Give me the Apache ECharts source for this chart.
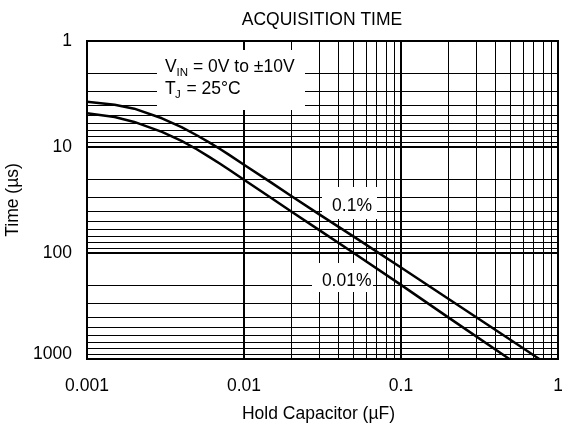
<!DOCTYPE html>
<html><head><meta charset="utf-8">
<script src="https://cdn.jsdelivr.net/npm/echarts@6/dist/echarts.min.js"></script>
<style>html,body{margin:0;padding:0;background:#fff}#c{width:562px;height:427px}</style>
</head><body><div id="c"></div>
<script>
const FONT = '"Liberation Sans", Arial, Helvetica, sans-serif';
const FS = 17.5;
const titleText = 'ACQUISITION TIME';
const xAxisName = 'Hold Capacitor (µF)';
const yAxisName = 'Time (µs)';
const xTicks = [0.001, 0.01, 0.1, 1];
const xTickLabels = ['0.001', '0.01', '0.1', '1'];
const yTicks = [1, 10, 100, 1000];
const yTickLabels = ['1', '10', '100', '1000'];
const gridMultipliers = [2, 3, 4, 5, 6, 7, 8, 9];

const seriesNames = ['0.1%', '0.01%'];
const capacitance01 = [0.001, 0.0015, 0.002, 0.003, 0.004, 0.005, 0.006, 0.007, 0.008, 0.01, 0.015, 0.02, 0.03, 0.05, 0.1, 0.2, 0.5, 0.76];
const time01 =        [3.74, 4.0, 4.35, 5.36, 6.5, 7.75, 9.05, 10.4, 11.8, 14.7, 21.8, 29, 43, 70, 137, 270, 662, 1000];
const capacitance001 = [0.001, 0.0015, 0.002, 0.003, 0.004, 0.005, 0.006, 0.007, 0.008, 0.01, 0.015, 0.02, 0.03, 0.05, 0.1, 0.2, 0.49];
const time001 =        [4.81, 5.22, 5.8, 7.2, 8.75, 10.5, 12.4, 14.3, 16.3, 20.4, 30.5, 40.6, 60.5, 100, 200, 405, 1000];

function minorValues(ticks) {
  const out = [];
  for (let i = 0; i < ticks.length - 1; i++) {
    gridMultipliers.forEach(m => out.push(+(ticks[i] * m).toPrecision(6)));
  }
  return out;
}
function tickLabel(ticks, labels) {
  return function (v) {
    for (let i = 0; i < ticks.length; i++) {
      if (Math.abs(Math.log10(v) - Math.log10(ticks[i])) < 1e-6) return labels[i];
    }
    return '';
  };
}
const xLabelFn = tickLabel(xTicks, xTickLabels);
const yLabelFn = tickLabel(yTicks, yTickLabels);

const chart = echarts.init(document.getElementById('c'), null, {renderer: 'canvas'});

const txt = (x, y, text, size, align) => ({
  type: 'text', x: x, y: y, z: 4, silent: true,
  style: {text: text, fill: '#000', font: size + 'px ' + FONT,
    align: align || 'left', textAlign: align || 'left',
    verticalAlign: 'middle', textVerticalAlign: 'middle'}
});
const box = (x, y, w, h) => ({type: 'rect', z: 3, silent: true, shape: {x: x, y: y, width: w, height: h}, style: {fill: '#fff'}});

chart.setOption({
  animation: false,
  backgroundColor: '#fff',
  title: {
    text: titleText, left: 322, top: 11, textAlign: 'center', padding: 0,
    textStyle: {fontFamily: FONT, fontSize: FS, fontWeight: 'normal', color: '#000'}
  },
  grid: {left: 87, right: 4, top: 41, bottom: 68, show: true, borderColor: '#000', borderWidth: 2,
    backgroundColor: 'transparent', containLabel: false, outerBoundsMode: 'none'},
  xAxis: {
    type: 'log', logBase: 10, min: 0.001, max: 1,
    name: xAxisName, nameLocation: 'middle', nameGap: 46,
    nameTextStyle: {fontFamily: FONT, fontSize: FS, color: '#000', padding: [0, 8, 0, 0]},
    axisLine: {show: false}, axisTick: {show: false},
    axisLabel: {fontFamily: FONT, fontSize: FS, color: '#000', margin: 18, formatter: xLabelFn, showMinLabel: true, showMaxLabel: true},
    splitLine: {show: true, lineStyle: {color: '#000', width: 2}}
  },
  yAxis: {
    type: 'log', logBase: 10, min: 1, max: 1000, inverse: true,
    name: yAxisName, nameLocation: 'middle', nameGap: 59,
    nameTextStyle: {fontFamily: FONT, fontSize: FS, color: '#000'},
    axisLine: {show: false}, axisTick: {show: false},
    axisLabel: {
      fontFamily: FONT, fontSize: FS, color: '#000', margin: 15, showMinLabel: true, showMaxLabel: true,
      formatter: function (v) {
        const s = yLabelFn(v);
        return s === yTickLabels[yTickLabels.length - 1] ? '{up|' + s + '}' : s;
      },
      rich: {up: {fontFamily: FONT, fontSize: FS, color: '#000', padding: [0, 0, 10, 0]}}
    },
    splitLine: {show: true, lineStyle: {color: '#000', width: 2}}
  },
  series: [
    {
      type: 'line', name: 'grid', data: [], z: 1, silent: true,
      markLine: {
        z: 1, silent: true, symbol: ['none', 'none'], animation: false,
        label: {show: false},
        lineStyle: {color: '#000', width: 1, type: 'solid'},
        emphasis: {disabled: true},
        data: minorValues(xTicks).map(v => ({xAxis: v})).concat(minorValues(yTicks).map(v => ({yAxis: v})))
      }
    },
    {
      type: 'line', name: seriesNames[0], z: 10, smooth: false, symbol: 'none', showSymbol: false,
      lineStyle: {color: '#000', width: 2.5, join: 'round'},
      data: capacitance01.map((c, i) => [c, time01[i]])
    },
    {
      type: 'line', name: seriesNames[1], z: 10, smooth: false, symbol: 'none', showSymbol: false,
      lineStyle: {color: '#000', width: 2.5, join: 'round'},
      data: capacitance001.map((c, i) => [c, time001[i]])
    }
  ],
  graphic: {elements: [
    box(157, 50, 148, 60),
    txt(165, 67, 'V', FS),
    txt(176.5, 72.5, 'IN', 11.5),
    txt(193, 67, '= 0V to ±10V', FS),
    txt(165, 89, 'T', FS),
    txt(175, 95, 'J', 11.5),
    txt(186.5, 89, '= 25°C', FS),
    box(322, 187, 55, 32),
    txt(352, 206.5, seriesNames[0], FS, 'center'),
    box(312, 263, 61, 29),
    txt(346.7, 281.5, seriesNames[1], FS, 'center')
  ]}
});
</script></body></html>
